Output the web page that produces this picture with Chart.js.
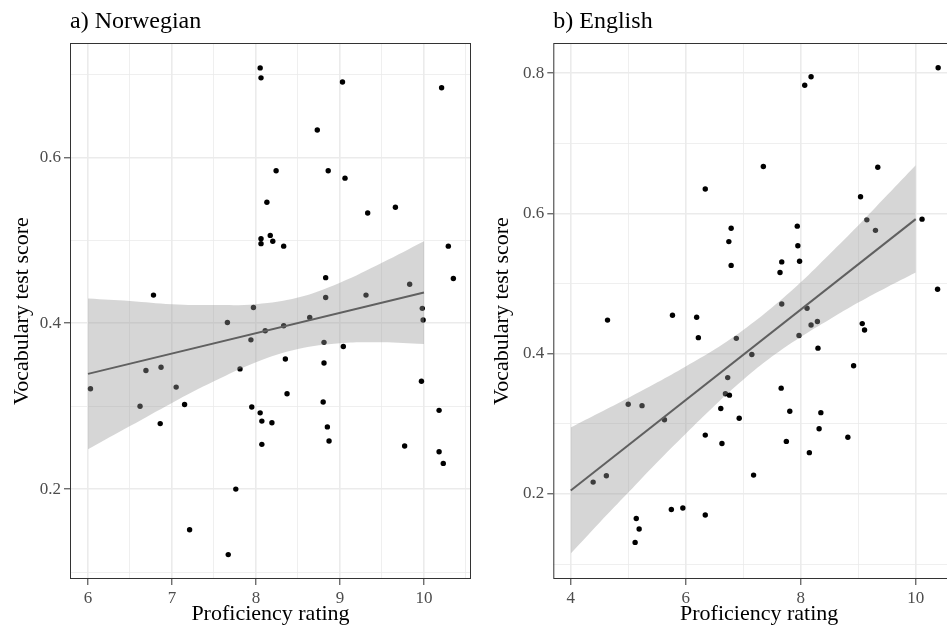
<!DOCTYPE html>
<html><head><meta charset="utf-8">
<script src="https://cdn.jsdelivr.net/npm/chart.js@4/dist/chart.umd.min.js"></script>
<style>
html,body{margin:0;padding:0;background:#fff;overflow:hidden;width:947px;height:634px;}
#wrapL{position:absolute;left:0;top:0;width:480px;height:634px;}
#wrapR{position:absolute;left:480px;top:0;width:500px;height:634px;}
canvas{display:block;}
</style></head><body>
<div id="wrapL"><canvas id="cL" width="480" height="634" style="width:480px;height:634px"></canvas></div>
<div id="wrapR"><canvas id="cR" width="500" height="634" style="width:500px;height:634px"></canvas></div>
<script>
// ---- Panel a) Norwegian ----
const normX = [6.03,6.62,6.69,6.78,6.86,6.87,7.05,7.15,7.21,7.66,7.67,7.76,7.81,7.94,7.95,7.97,8.05,8.06,8.05,8.06,8.06,8.07,8.07,8.11,8.13,8.17,8.19,8.20,8.24,8.33,8.33,8.35,8.37,8.64,8.73,8.80,8.81,8.81,8.83,8.83,8.85,8.86,8.87,9.03,9.04,9.06,9.31,9.33,9.66,9.77,9.83,9.97,9.98,9.99,10.18,10.18,10.21,10.23,10.29,10.35];
const normY = [0.321,0.300,0.343,0.434,0.279,0.347,0.323,0.302,0.151,0.401,0.121,0.200,0.345,0.380,0.299,0.419,0.708,0.696,0.292,0.502,0.496,0.282,0.254,0.391,0.546,0.506,0.280,0.499,0.584,0.493,0.397,0.357,0.315,0.407,0.633,0.305,0.377,0.352,0.455,0.431,0.275,0.584,0.258,0.691,0.372,0.575,0.434,0.533,0.540,0.252,0.447,0.330,0.418,0.404,0.295,0.245,0.684,0.231,0.493,0.454];
const normFitX = [6, 10];
const normFitY = [0.339, 0.437];
const normBandX = [6,6.5,7,7.5,8,8.5,9,9.5,10];
const normBandLow = [0.248,0.276,0.304,0.330,0.353,0.369,0.376,0.377,0.375];
const normBandHigh = [0.430,0.427,0.423,0.422,0.423,0.431,0.449,0.473,0.499];
const normXTicks = [6,7,8,9,10];
const normXMinor = [6.5,7.5,8.5,9.5,10.5];
const normYTicks = [0.2,0.4,0.6];
const normYMinor = [0.1,0.3,0.5,0.7];

// ---- Panel b) English ----
const engX = [4.39,4.62,4.64,5.00,5.12,5.14,5.19,5.24,5.63,5.75,5.77,5.95,6.19,6.22,6.34,6.34,6.34,6.61,6.63,6.69,6.73,6.75,6.76,6.79,6.79,6.88,6.93,7.15,7.18,7.35,7.64,7.66,7.67,7.67,7.75,7.81,7.94,7.95,7.97,7.98,8.07,8.11,8.15,8.18,8.18,8.29,8.30,8.32,8.35,8.82,8.92,9.04,9.07,9.11,9.15,9.30,9.34,10.11,10.38,10.39];
const engY = [0.217,0.226,0.448,0.328,0.131,0.165,0.150,0.326,0.306,0.178,0.455,0.180,0.452,0.423,0.635,0.284,0.170,0.322,0.272,0.343,0.366,0.560,0.341,0.579,0.526,0.422,0.308,0.399,0.227,0.667,0.516,0.351,0.531,0.471,0.275,0.318,0.582,0.554,0.426,0.532,0.783,0.465,0.259,0.795,0.441,0.446,0.408,0.293,0.316,0.281,0.383,0.624,0.443,0.434,0.591,0.576,0.666,0.592,0.492,0.808];
const engFitX = [4, 10];
const engFitY = [0.205, 0.592];
const engBandX = [4,4.5,5,5.5,6,6.5,7,7.5,8,8.5,9,9.5,10];
const engBandLow = [0.115,0.159,0.202,0.245,0.286,0.326,0.363,0.396,0.424,0.449,0.473,0.495,0.516];
const engBandHigh = [0.295,0.316,0.337,0.359,0.382,0.406,0.434,0.466,0.502,0.542,0.583,0.626,0.669];
const engXTicks = [4,6,8,10];
const engXMinor = [5,7,9];
const engYTicks = [0.2,0.4,0.6,0.8];
const engYMinor = [0.1,0.3,0.5,0.7];

const FONT = "'Liberation Serif', 'Times New Roman', serif";
const has = (arr, v) => arr.some(a => Math.abs(a - v) < 1e-9);
const zip = (xs, ys) => xs.map((x, i) => ({x: x, y: ys[i]}));

const panelBorder = {
  id: 'panelBorder',
  afterDatasetsDraw(chart) {
    const a = chart.chartArea, c = chart.ctx;
    c.save();
    c.strokeStyle = '#333333';
    c.lineWidth = 1;
    c.strokeRect(a.left + 0.5, a.top + 0.5, a.right - a.left - 1, a.bottom - a.top - 1);
    c.restore();
  }
};

function axis(major, minor, fmt, min, max, title, isX, fitSize, titlePad) {
  return {
    type: 'linear',
    position: isX ? 'bottom' : 'left',
    min: min, max: max,
    afterBuildTicks(s) {
      s.ticks = major.concat(minor).sort((a, b) => a - b).map(v => ({value: v}));
    },
    afterFit(s) { if (isX) s.height = fitSize; else s.width = fitSize; },
    border: {display: false},
    grid: {
      color: '#EBEBEB',
      lineWidth: ctx => (ctx.tick && has(major, ctx.tick.value)) ? 1.6 : 0.8,
      drawTicks: true,
      tickLength: 6,
      tickColor: ctx => (ctx.tick && has(major, ctx.tick.value)) ? '#333333' : 'rgba(0,0,0,0)',
      tickWidth: 1
    },
    ticks: {
      autoSkip: false,
      maxRotation: 0,
      padding: 3,
      color: '#4D4D4D',
      font: {family: FONT, size: 17},
      callback: v => has(major, v) ? fmt(v) : ''
    },
    title: {
      display: true, text: title, color: '#000000',
      font: {family: FONT, size: 22},
      padding: titlePad
    }
  };
}

function makePanel(id, cfg) {
  new Chart(document.getElementById(id), {
    data: {
      datasets: [
        {type: 'line', data: zip(cfg.fitX, cfg.fitY), borderColor: '#606060', borderWidth: 2, pointRadius: 0, fill: false, tension: 0},
        {type: 'line', data: zip(cfg.bandX, cfg.bandHigh), borderWidth: 0, borderColor: 'rgba(0,0,0,0)', pointRadius: 0, fill: false, tension: 0.4},
        {type: 'line', data: zip(cfg.bandX, cfg.bandLow), borderWidth: 0, borderColor: 'rgba(0,0,0,0)', pointRadius: 0, fill: '-1', backgroundColor: 'rgba(153,153,153,0.4)', tension: 0.4},
        {type: 'scatter', data: zip(cfg.x, cfg.y), backgroundColor: '#000000', borderWidth: 0, pointRadius: 2.7}
      ]
    },
    options: {
      responsive: false,
      devicePixelRatio: 1,
      animation: false,
      layout: {padding: {left: 0, right: cfg.padRight, top: 0, bottom: 0}},
      plugins: {
        legend: {display: false},
        tooltip: {enabled: false},
        title: {
          display: true, text: cfg.title, align: 'start', fullSize: false,
          color: '#000000', font: {family: FONT, size: 24, weight: 'normal'},
          padding: {top: 7.6, bottom: 6.6}
        }
      },
      scales: {
        x: axis(cfg.xMajor, cfg.xMinor, v => String(v), cfg.xMin, cfg.xMax, 'Proficiency rating', true, 55, {top: 0, bottom: 6.8}),
        y: axis(cfg.yMajor, cfg.yMinor, v => v.toFixed(1), cfg.yMin, cfg.yMax, 'Vocabulary test score', false, cfg.yWidth, {top: 9, bottom: 0})
      }
    },
    plugins: [panelBorder]
  });
}

makePanel('cL', {
  title: 'a) Norwegian', x: normX, y: normY, fitX: normFitX, fitY: normFitY,
  bandX: normBandX, bandLow: normBandLow, bandHigh: normBandHigh,
  xMajor: normXTicks, xMinor: normXMinor, yMajor: normYTicks, yMinor: normYMinor,
  xMin: 5.786, xMax: 10.56, yMin: 0.0916, yMax: 0.738, yWidth: 70, padRight: 9
});
makePanel('cR', {
  title: 'b) English', x: engX, y: engY, fitX: engFitX, fitY: engFitY,
  bandX: engBandX, bandLow: engBandLow, bandHigh: engBandHigh,
  xMajor: engXTicks, xMinor: engXMinor, yMajor: engYTicks, yMinor: engYMinor,
  xMin: 3.697, xMax: 10.857, yMin: 0.0788, yMax: 0.8432, yWidth: 73.3, padRight: 15
});
</script>
</body></html>
